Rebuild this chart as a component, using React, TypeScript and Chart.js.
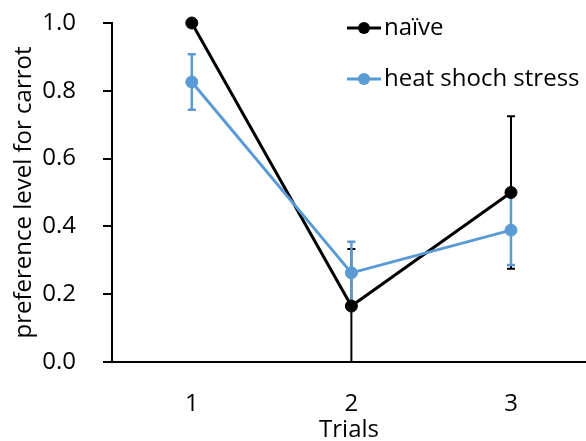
import { useEffect, useRef } from 'react';
import { Chart, registerables } from 'chart.js';

Chart.register(...registerables);

const trials = [1, 2, 3];
const naive = [1.0, 0.165, 0.5];
const naiveErr = [0, 0.168, 0.225];
const heat = [0.826, 0.263, 0.389];
const heatErr = [0.082, 0.092, 0.103];
const yTicks = [0, 0.2, 0.4, 0.6, 0.8, 1.0];
const seriesLabels = ['naïve', 'heat shoch stress'];
const xTitle = 'Trials';
const yTitle = 'preference level for carrot';

const BLACK = '#000000';
const BLUE = '#5B9BD5';
const FONT = '"Open Sans", sans-serif';

export default function App() {
  const ref = useRef<HTMLCanvasElement | null>(null);

  useEffect(() => {
    if (!ref.current) return;

    const series = [
      { vals: naive, errs: naiveErr, color: BLACK, w: 2, label: seriesLabels[0] },
      { vals: heat, errs: heatErr, color: BLUE, w: 2.5, label: seriesLabels[1] },
    ];

    const errorBars = {
      id: 'errorBars',
      beforeDatasetsDraw(chart: any) {
        const { ctx, scales } = chart;
        const x = scales.x;
        const y = scales.y;
        ctx.save();
        series.forEach((s) => {
          ctx.strokeStyle = s.color;
          ctx.lineWidth = s.w;
          s.vals.forEach((v, i) => {
            const e = s.errs[i];
            if (!e) return;
            const px = x.getPixelForValue(trials[i]);
            const hi = v + e;
            const lo = v - e;
            const pHi = y.getPixelForValue(hi);
            const pLo = y.getPixelForValue(Math.max(0, lo));
            ctx.beginPath();
            ctx.moveTo(px, pHi);
            ctx.lineTo(px, pLo);
            ctx.moveTo(px - 4, pHi);
            ctx.lineTo(px + 4, pHi);
            if (lo > 0) {
              ctx.moveTo(px - 4, pLo);
              ctx.lineTo(px + 4, pLo);
            }
            ctx.stroke();
          });
        });
        ctx.restore();
      },
    };

    const customLegend = {
      id: 'customLegend',
      afterDraw(chart: any) {
        const { ctx, chartArea } = chart;
        const x0 = chartArea.left + 235;
        const rows = [chartArea.top + 5, chartArea.top + 56];
        ctx.save();
        series.forEach((s, i) => {
          const yy = rows[i];
          ctx.strokeStyle = s.color;
          ctx.lineWidth = 3;
          ctx.beginPath();
          ctx.moveTo(x0, yy);
          ctx.lineTo(x0 + 34, yy);
          ctx.stroke();
          ctx.fillStyle = s.color;
          ctx.beginPath();
          ctx.arc(x0 + 17, yy, 6, 0, Math.PI * 2);
          ctx.fill();
          ctx.fillStyle = '#000';
          ctx.font = `24px ${FONT}`;
          ctx.textBaseline = 'middle';
          ctx.textAlign = 'left';
          ctx.fillText(s.label, x0 + 37, yy);
        });
        ctx.restore();
      },
    };

    const zeroPad = (s: any) => {
      s.paddingTop = 0;
      s.paddingBottom = 0;
      s.paddingLeft = 0;
      s.paddingRight = 0;
    };

    const chart = new Chart(ref.current, {
      type: 'line',
      data: {
        datasets: [
          {
            label: seriesLabels[0],
            data: trials.map((t, i) => ({ x: t, y: naive[i] })),
            borderColor: BLACK,
            backgroundColor: BLACK,
            borderWidth: 3,
            pointRadius: 6,
            pointBackgroundColor: BLACK,
            pointBorderColor: BLACK,
            pointBorderWidth: 1,
            tension: 0,
            clip: false,
            order: 2,
          },
          {
            label: seriesLabels[1],
            data: trials.map((t, i) => ({ x: t, y: heat[i] })),
            borderColor: BLUE,
            backgroundColor: BLUE,
            borderWidth: 3,
            pointRadius: 6,
            pointBackgroundColor: BLUE,
            pointBorderColor: BLUE,
            pointBorderWidth: 1,
            tension: 0,
            clip: false,
            order: 1,
          },
        ],
      },
      options: {
        responsive: false,
        animation: false,
        layout: { autoPadding: false, padding: { top: 23, right: 0, bottom: 0, left: 0 } },
        plugins: {
          legend: { display: false },
          tooltip: { enabled: false },
        },
        scales: {
          x: {
            type: 'linear',
            min: 0.5,
            max: 3.47,
            afterBuildTicks: (s: any) => {
              s.ticks = trials.map((v) => ({ value: v }));
            },
            afterFit: (s: any) => {
              s.height = 79;
              zeroPad(s);
            },
            grid: { display: false },
            border: { display: true, color: BLACK, width: 2 },
            ticks: {
              color: '#000',
              font: { family: FONT, size: 24 },
              padding: 20,
              maxRotation: 0,
              callback: (v: any) => String(v),
            },
            title: {
              display: true,
              text: xTitle,
              color: '#000',
              font: { family: FONT, size: 24 },
              padding: { top: 0, bottom: -4 },
            },
          },
          y: {
            type: 'linear',
            min: 0,
            max: 1,
            afterBuildTicks: (s: any) => {
              s.ticks = yTicks.map((v) => ({ value: v }));
            },
            afterFit: (s: any) => {
              s.width = 112;
              zeroPad(s);
            },
            grid: {
              display: true,
              drawOnChartArea: false,
              drawTicks: true,
              tickLength: 9,
              color: BLACK,
              lineWidth: 2,
            },
            border: { display: true, color: BLACK, width: 2 },
            ticks: {
              color: '#000',
              font: { family: FONT, size: 24 },
              padding: 27,
              callback: (v: any) => Number(v).toFixed(1),
            },
            title: {
              display: true,
              text: yTitle,
              color: '#000',
              font: { family: FONT, size: 24 },
              padding: { top: 10, bottom: 0 },
            },
          },
        },
      },
      plugins: [errorBars, customLegend],
    });

    return () => chart.destroy();
  }, []);

  return (
    <div style={{ position: 'absolute', left: 0, top: 0, width: 586, height: 441, background: '#fff' }}>
      <canvas ref={ref} width={586} height={441} style={{ width: 586, height: 441, display: 'block' }} />
    </div>
  );
}
